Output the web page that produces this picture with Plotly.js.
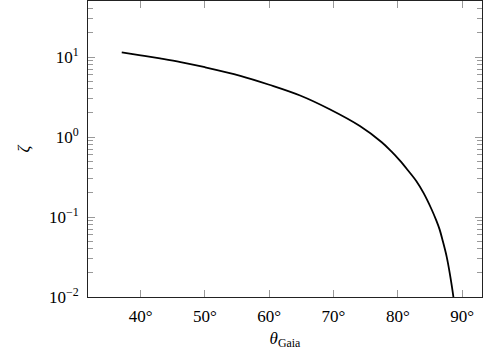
<!DOCTYPE html>
<html>
<head>
<meta charset="utf-8">
<script src="https://cdn.plot.ly/plotly-3.0.1.min.js"></script>
<style>
html,body{margin:0;padding:0;background:#fff;}
#chart{width:484px;height:357px;}
#chart text{font-family:"Liberation Serif","DejaVu Serif",serif !important;}
</style>
</head>
<body>
<div id="chart"></div>
<script>
// Data
const thetaGaia = [37.05, 40.0, 43.0, 46.2, 50.0, 55.5, 60.0, 64.8, 69.4, 74.1, 77.5, 79.0, 80.3, 81.5, 82.9, 84.0, 85.25, 86.0, 86.5, 87.0, 87.6, 88.1, 88.65, 89.0];
const zeta      = [11.45, 10.5, 9.6, 8.65, 7.45, 5.82, 4.5, 3.3, 2.22, 1.37, 0.86, 0.66, 0.51, 0.39, 0.28, 0.2, 0.125, 0.09, 0.07, 0.05, 0.032, 0.0195, 0.0100, 0.0055];
const yTickVals = [0.01, 0.1, 1, 10];
const yTickText = ['10<sup>−2</sup>', '10<sup>−1</sup>', '10<sup>0</sup>', '10<sup>1</sup>'];
const xTickVals = [40, 50, 60, 70, 80, 90];
const xTickText = ['40°', '50°', '60°', '70°', '80°', '90°'];

const font = {family: 'Liberation Serif, serif', size: 17, color: '#000'};

Plotly.newPlot('chart', [{
  x: thetaGaia, y: zeta, type: 'scatter', mode: 'lines',
  line: {color: '#000', width: 1.8, shape: 'spline', smoothing: 1},
  hoverinfo: 'skip'
}], {
  width: 484, height: 357,
  margin: {l: 88, r: 2, t: 1, b: 60},
  paper_bgcolor: '#fff', plot_bgcolor: '#fff',
  showlegend: false,
  font: font,
  xaxis: {
    range: [31.8, 93.1],
    tickmode: 'array', tickvals: xTickVals, ticktext: xTickText,
    ticks: 'inside', ticklen: 7, tickcolor: '#999', tickwidth: 1,
    showline: true, linecolor: '#222', linewidth: 1, mirror: 'ticks',
    showgrid: false, zeroline: false,
    ticklabelstandoff: 4,
    tickfont: font,
    title: {text: '<i>θ</i><sub>Gaia</sub>', font: font, standoff: 6}
  },
  yaxis: {
    type: 'log', range: [-2, 1.7],
    tickmode: 'array', tickvals: yTickVals, ticktext: yTickText,
    ticks: 'inside', ticklen: 7, tickcolor: '#999', tickwidth: 1,
    minor: {dtick: 'D1', ticks: 'inside', ticklen: 5, tickcolor: '#999', tickwidth: 1, showgrid: false},
    showline: true, linecolor: '#222', linewidth: 1, mirror: 'ticks',
    showgrid: false, zeroline: false,
    ticklabelstandoff: 5,
    tickfont: font,
    title: {text: '<i>ζ</i>', font: font, standoff: 14}
  }
}, {staticPlot: true, displayModeBar: false});
</script>
</body>
</html>
